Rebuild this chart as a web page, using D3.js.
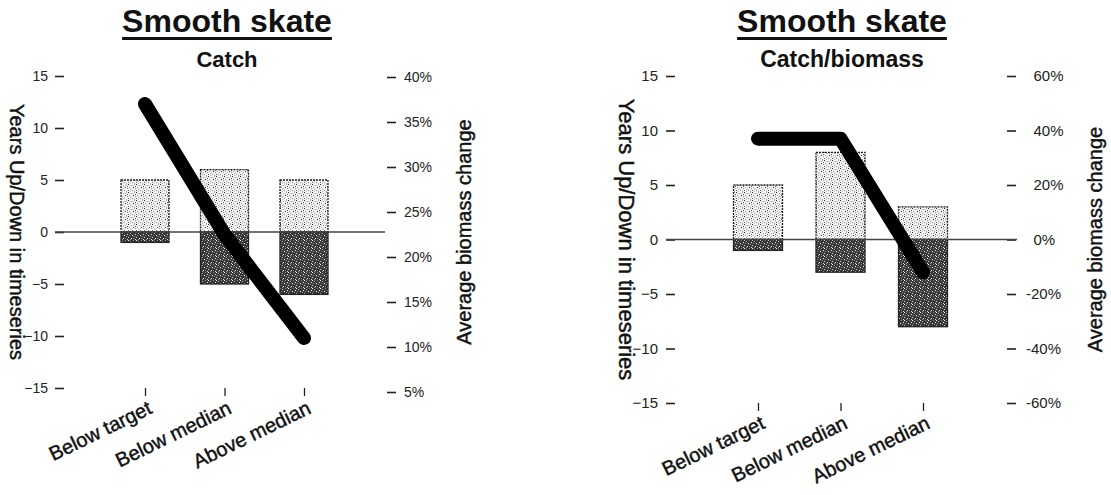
<!DOCTYPE html>
<html>
<head>
<meta charset="utf-8">
<script src="https://cdn.jsdelivr.net/npm/d3@7"></script>
<style>
  html, body { margin: 0; padding: 0; background: #fff; }
  svg { display: block; font-family: "Liberation Sans", Arial, sans-serif; }
</style>
</head>
<body>
<svg id="chart" width="1111" height="495"></svg>
<script>
// ---------- data ----------
const categories = ["Below target", "Below median", "Above median"];
const speciesTitle = "Smooth skate";

const catchTitle = "Catch";
const catchYearsUp = [5, 6, 5];
const catchYearsDown = [-1, -5, -6];
const catchBiomassChange = [37, 22.5, 11];          // %
const catchPctTicks = [5, 10, 15, 20, 25, 30, 35, 40];

const cbTitle = "Catch/biomass";
const cbYearsUp = [5, 8, 3];
const cbYearsDown = [-1, -3, -8];
const cbBiomassChange = [37, 37, -12];              // %
const cbPctTicks = [-60, -40, -20, 0, 20, 40, 60];

const yearTicks = [-15, -10, -5, 0, 5, 10, 15];
const leftAxisTitle = "Years Up/Down in timeseries";
const rightAxisTitle = "Average biomass change";

// ---------- drawing ----------
const svg = d3.select("#chart");
const defs = svg.append("defs");

// stipple patterns
function makePattern(id, bg, dots) {
  const p = defs.append("pattern").attr("id", id).attr("patternUnits", "userSpaceOnUse")
    .attr("width", 8).attr("height", 8);
  p.append("rect").attr("width", 8).attr("height", 8).attr("fill", bg);
  dots.forEach(d => p.append("rect").attr("x", d[0]).attr("y", d[1]).attr("width", 1).attr("height", 1).attr("fill", d[2]));
}
makePattern("lightStip", "#f4f4f4", [
  [0,0,"#222"],[3,1,"#999"],[6,0,"#aaa"],[1,3,"#aaa"],[5,3,"#333"],[7,4,"#999"],
  [2,5,"#aaa"],[4,6,"#888"],[0,6,"#666"],[6,7,"#aaa"],[3,4,"#bbb"],[5,1,"#bbb"],
  [1,1,"#ccc"],[7,2,"#555"],[2,7,"#bbb"]
]);
makePattern("darkStip", "#383838", [
  [0,0,"#fff"],[2,1,"#bbb"],[5,0,"#888"],[7,2,"#eee"],[1,3,"#888"],[4,3,"#fff"],
  [6,4,"#999"],[0,5,"#ccc"],[3,6,"#eee"],[5,6,"#777"],[7,7,"#ddd"],[2,7,"#999"]
]);

const ink = "#111";
function heavy(sel, w) { return sel.attr("stroke", ink).attr("stroke-width", w).attr("paint-order", "stroke"); }

function drawPanel(cfg) {
  const g = svg.append("g");
  const x = d3.scalePoint().domain(categories).range(cfg.xRange);
  const yL = d3.scaleLinear().domain([-15, 15]).range(cfg.yRange);
  const yR = d3.scaleLinear().domain(cfg.pctDomain).range(cfg.yRRange);

  // titles
  const t = g.append("text").attr("x", cfg.titleX).attr("y", 32)
    .attr("text-anchor", "middle").attr("font-size", cfg.titleSize).attr("font-weight", "bold")
    .attr("fill", ink).text(speciesTitle);
  const tw = t.node().getComputedTextLength();
  g.append("line").attr("x1", cfg.titleX - tw / 2).attr("x2", cfg.titleX + tw / 2)
    .attr("y1", 38.5).attr("y2", 38.5).attr("stroke", ink).attr("stroke-width", 3);
  g.append("text").attr("x", cfg.titleX).attr("y", 67)
    .attr("text-anchor", "middle").attr("font-size", cfg.subSize).attr("font-weight", "bold")
    .attr("fill", ink).text(cfg.subtitle);

  // left axis
  const axL = g.append("g").attr("transform", `translate(${cfg.leftAxisX},0)`)
    .call(d3.axisLeft(yL).tickValues(yearTicks).tickSize(cfg.tickLen).tickPadding(cfg.padL).tickFormat(d3.format("d")));
  // right axis
  const fmtPct = d => (d < 0 ? "-" + Math.abs(d) : "\u2002" + d) + "%";
  const axR = g.append("g").attr("transform", `translate(${cfg.rightAxisX},0)`)
    .call(d3.axisRight(yR).tickValues(cfg.pctTicks).tickSize(cfg.tickLen).tickPadding(cfg.padR).tickFormat(fmtPct));
  [axL, axR].forEach(a => {
    a.select(".domain").remove();
    a.selectAll(".tick line").attr("stroke", "#222").attr("stroke-width", 1.6);
    a.selectAll(".tick text").attr("font-size", cfg.tickFont).attr("fill", "#222")
      .attr("font-family", "'Liberation Sans', Arial, sans-serif");
  });
  axR.selectAll(".tick text").attr("x", cfg.padR + cfg.tickLen - 6).style("white-space", "pre");

  // x ticks
  const axB = g.append("g").attr("transform", `translate(0,${cfg.yRange[0]})`)
    .call(d3.axisBottom(x).tickSize(8).tickFormat(""));
  axB.select(".domain").remove();
  axB.selectAll(".tick line").attr("stroke", "#222").attr("stroke-width", 1.3);

  // category labels
  heavy(g.selectAll(".xlab").data(categories).join("text")
    .attr("class", "xlab")
    .attr("transform", d => `translate(${x(d) + cfg.labDx},${cfg.yRange[0] + 12}) rotate(-26)`)
    .attr("text-anchor", "end").attr("dy", "0.7em")
    .attr("font-size", cfg.catFont).attr("fill", ink).text(d => d), 0.45);

  // axis titles
  const midY = (cfg.yRange[0] + cfg.yRange[1]) / 2;
  heavy(g.append("text").attr("transform", `translate(${cfg.leftTitleX},${midY}) rotate(90)`)
    .attr("text-anchor", "middle").attr("dy", "0.35em")
    .attr("font-size", cfg.leftTitleSize).attr("fill", ink).text(leftAxisTitle), 0.45);
  heavy(g.append("text").attr("transform", `translate(${cfg.rightTitleX},${midY}) rotate(-90)`)
    .attr("text-anchor", "middle").attr("dy", "0.35em")
    .attr("font-size", cfg.rightTitleSize).attr("fill", ink).text(rightAxisTitle), 0.45);

  // bars
  const bw = cfg.barWidth;
  g.selectAll(".up").data(categories).join("rect").attr("class", "up")
    .attr("x", d => x(d) - bw / 2).attr("width", bw)
    .attr("y", (d, i) => yL(cfg.up[i])).attr("height", (d, i) => yL(0) - yL(cfg.up[i]))
    .attr("fill", "url(#lightStip)").attr("stroke", "#222").attr("stroke-width", 1.3)
    .attr("stroke-dasharray", "2,1");
  g.selectAll(".down").data(categories).join("rect").attr("class", "down")
    .attr("x", d => x(d) - bw / 2).attr("width", bw)
    .attr("y", yL(0)).attr("height", (d, i) => yL(cfg.down[i]) - yL(0))
    .attr("fill", "url(#darkStip)").attr("stroke", "#222").attr("stroke-width", 1.3);

  // zero line
  g.append("line").attr("x1", cfg.leftAxisX - cfg.tickLen).attr("x2", cfg.zeroEnd)
    .attr("y1", yL(0)).attr("y2", yL(0)).attr("stroke", "#444").attr("stroke-width", 1.4);

  // biomass line
  const line = d3.line().x((d, i) => x(categories[i])).y(d => yR(d));
  g.append("path").datum(cfg.biomass).attr("d", line)
    .attr("fill", "none").attr("stroke", "#000").attr("stroke-width", 14)
    .attr("stroke-linecap", "round").attr("stroke-linejoin", "round");
}

drawPanel({
  subtitle: catchTitle, up: catchYearsUp, down: catchYearsDown, biomass: catchBiomassChange,
  pctDomain: [5, 40], pctTicks: catchPctTicks,
  xRange: [145, 304], yRange: [388, 76], yRRange: [392, 77],
  leftAxisX: 64, rightAxisX: 387, zeroEnd: 385, tickLen: 9, padL: 7, padR: 7,
  titleX: 227, titleSize: 32, subSize: 22, barWidth: 48, tickFont: 14, catFont: 20, labDx: 2,
  leftTitleX: 17, leftTitleSize: 20, rightTitleX: 464, rightTitleSize: 20
});

drawPanel({
  subtitle: cbTitle, up: cbYearsUp, down: cbYearsDown, biomass: cbBiomassChange,
  pctDomain: [-60, 60], pctTicks: cbPctTicks,
  xRange: [758, 923], yRange: [403, 76], yRRange: [403, 76],
  leftAxisX: 675, rightAxisX: 1007, zeroEnd: 1017, tickLen: 9, padL: 8, padR: 16,
  titleX: 842, titleSize: 32, subSize: 23, barWidth: 49, tickFont: 15, catFont: 20, labDx: 2,
  leftTitleX: 627, leftTitleSize: 22, rightTitleX: 1095, rightTitleSize: 20
});
</script>
</body>
</html>
